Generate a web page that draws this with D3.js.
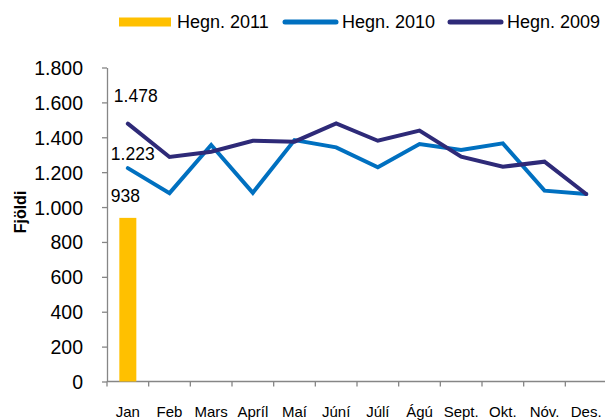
<!DOCTYPE html>
<html>
<head>
<meta charset="utf-8">
<script src="https://cdn.jsdelivr.net/npm/d3@7"></script>
<style>
  body { margin: 0; background: #fff; }
  text { font-family: Arial, "Liberation Sans", sans-serif; fill: #000; }
</style>
</head>
<body>
<div id="main"></div>
<script>
// data
const months = ['Jan', 'Feb', 'Mars', 'Apríl', 'Maí', 'Júní', 'Júlí', 'Ágú', 'Sept.', 'Okt.', 'Nóv.', 'Des.'];
const hegn2011 = [938];
const hegn2010 = [1223, 1080, 1356, 1082, 1384, 1342, 1228, 1361, 1327, 1365, 1094, 1075];
const hegn2009 = [1478, 1287, 1317, 1380, 1375, 1480, 1380, 1438, 1289, 1231, 1260, 1075];
const yTicks = [0, 200, 400, 600, 800, 1000, 1200, 1400, 1600, 1800];

const svgWidth = 605;
const svgHeight = 420;
const margin = { t: 67.5, r: -2, b: 38.5, l: 107 };

const col2011 = '#FFC000';
const col2010 = '#0070C0';
const col2009 = '#2E2A78';
const axisCol = '#868686';

const svg = d3.select('#main')
  .append('svg')
  .attr('width', svgWidth)
  .attr('height', svgHeight);

const plot = svg.append('g')
  .attr('transform', `translate(${margin.l},${margin.t})`);

const chartWidth = svgWidth - margin.l - margin.r;
const chartHeight = svgHeight - margin.t - margin.b;

const x = d3.scaleBand().domain(months).range([0, chartWidth]);
const y = d3.scaleLinear().domain([0, 1800]).range([chartHeight, 0]);

const locale = d3.formatLocale({ decimal: ',', thousands: '.', grouping: [3], currency: ['', ''] });
const fmt = locale.format(',d');

// y axis
const yAxis = plot.append('g')
  .call(d3.axisLeft(y).tickValues(yTicks).tickFormat(fmt).tickSize(5).tickSizeOuter(0));
yAxis.select('.domain').attr('stroke', axisCol).attr('stroke-width', 1.3);
yAxis.selectAll('.tick line').attr('stroke', axisCol).attr('stroke-width', 1.3);
yAxis.selectAll('.tick text')
  .attr('x', -24)
  .attr('dy', '0.36em')
  .style('font-size', '19.5px')
  .style('font-family', 'Arial, "Liberation Sans", sans-serif')
  .attr('fill', '#000');

// x axis: ticks at category boundaries
const xg = plot.append('g').attr('transform', `translate(0,${chartHeight})`);
xg.append('line')
  .attr('x1', 0).attr('x2', chartWidth)
  .attr('stroke', axisCol).attr('stroke-width', 1.3);
xg.selectAll('.xtick')
  .data(months)
  .enter()
  .append('line')
  .attr('class', 'xtick')
  .attr('x1', d => x(d)).attr('x2', d => x(d))
  .attr('y1', 0).attr('y2', 5)
  .attr('stroke', axisCol).attr('stroke-width', 1.3);
xg.selectAll('.xlabel')
  .data(months)
  .enter()
  .append('text')
  .attr('class', 'xlabel')
  .attr('x', d => x(d) + x.bandwidth() / 2)
  .attr('y', 35)
  .attr('text-anchor', 'middle')
  .style('font-size', '15px')
  .text(d => d);

// bars (2011)
const barW = 17;
plot.selectAll('.bar')
  .data(hegn2011)
  .enter()
  .append('rect')
  .attr('class', 'bar')
  .attr('x', (d, i) => x(months[i]) + x.bandwidth() / 2 - barW / 2)
  .attr('y', d => y(d))
  .attr('width', barW)
  .attr('height', d => chartHeight - y(d))
  .attr('fill', col2011);

// lines
const line = d3.line()
  .x((d, i) => x(months[i]) + x.bandwidth() / 2)
  .y(d => y(d));

[[hegn2010, col2010], [hegn2009, col2009]].forEach(([data, c]) => {
  plot.append('path')
    .datum(data)
    .attr('d', line)
    .attr('fill', 'none')
    .attr('stroke', c)
    .attr('stroke-width', 4)
    .attr('stroke-linejoin', 'miter')
    .attr('stroke-linecap', 'round');
});

// data labels for January
const labels = [
  { v: hegn2009[0], dy: -22, dx: -14 },
  { v: hegn2010[0], dy: -8, dx: -17 },
  { v: hegn2011[0], dy: -16, dx: -17 }
];
plot.selectAll('.dlabel')
  .data(labels)
  .enter()
  .append('text')
  .attr('class', 'dlabel')
  .attr('x', d => x(months[0]) + x.bandwidth() / 2 + d.dx)
  .attr('y', d => y(d.v) + d.dy)
  .style('font-size', '17.5px')
  .text(d => fmt(d.v));

// y axis title
svg.append('text')
  .attr('transform', 'translate(26,212) rotate(-90)')
  .attr('text-anchor', 'middle')
  .style('font-size', '16px')
  .style('font-weight', 'bold')
  .text('Fjöldi');

// legend
const legend = svg.append('g');
legend.append('rect')
  .attr('x', 119).attr('y', 17.5)
  .attr('width', 52).attr('height', 9)
  .attr('fill', col2011);
legend.append('text').attr('x', 177).attr('y', 28).style('font-size', '18px').text('Hegn. 2011');
legend.append('line')
  .attr('x1', 285).attr('x2', 336).attr('y1', 22).attr('y2', 22)
  .attr('stroke', col2010).attr('stroke-width', 5).attr('stroke-linecap', 'round');
legend.append('text').attr('x', 342).attr('y', 28).style('font-size', '18px').text('Hegn. 2010');
legend.append('line')
  .attr('x1', 450).attr('x2', 501).attr('y1', 22).attr('y2', 22)
  .attr('stroke', col2009).attr('stroke-width', 5).attr('stroke-linecap', 'round');
legend.append('text').attr('x', 507).attr('y', 28).style('font-size', '18px').text('Hegn. 2009');
</script>
</body>
</html>
